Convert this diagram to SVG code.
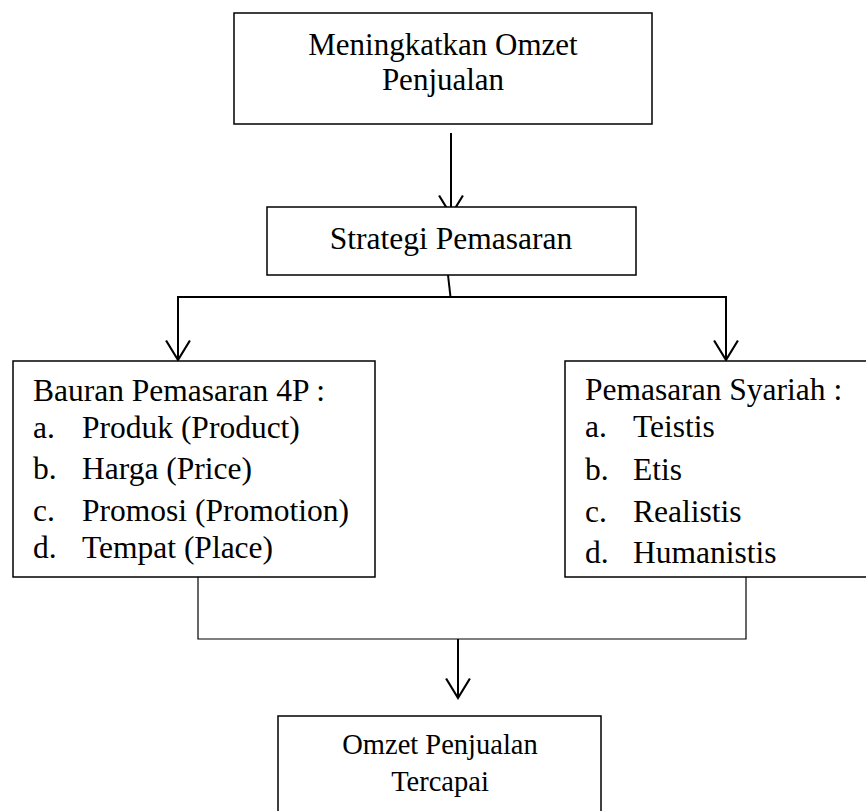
<svg xmlns="http://www.w3.org/2000/svg" width="866" height="811" viewBox="0 0 866 811">
<style>
.box{fill:#fff;stroke:#000;stroke-width:1.5}
.t{font-family:"Liberation Serif","Times New Roman",serif;fill:#000}
.c{text-anchor:middle}
.ln{fill:none;stroke:#000;stroke-width:2}
.thin{fill:none;stroke:#000;stroke-width:1.2}
</style>
<defs>
<marker id="arr" markerUnits="userSpaceOnUse" markerWidth="24" markerHeight="26" refX="19" refY="12" orient="auto-start-reverse" viewBox="0 0 22 24">
<path d="M1,1 L19,12 L1,23" fill="none" stroke="#000" stroke-width="2"/>
</marker>
</defs>
<g id="connectors">
<line class="ln" x1="451" y1="133" x2="451" y2="215" marker-end="url(#arr)"/>
<line class="ln" x1="448" y1="275" x2="450.5" y2="297"/>
<polyline class="ln" points="178,360 178,297 726,297 726,360" marker-start="url(#arr)" marker-end="url(#arr)"/>
<polyline class="thin" points="198,569 198,639 746,639 746,569"/>
<line class="ln" x1="458" y1="639" x2="458" y2="698" marker-end="url(#arr)"/>
</g>
<g id="node-omzet">
<rect class="box" x="234" y="13" width="418" height="111"/>
<text class="t c" x="443" y="55" font-size="31">Meningkatkan Omzet</text>
<text class="t c" x="443" y="90" font-size="31">Penjualan</text>
</g>
<g id="node-strategi">
<rect class="box" x="267" y="207" width="369" height="68"/>
<text class="t c" x="451" y="249" font-size="31.5">Strategi Pemasaran</text>
</g>
<g id="node-bauran">
<rect class="box" x="13" y="361" width="362" height="216"/>
<text class="t" font-size="31.5">
<tspan x="33" y="401">Bauran Pemasaran 4P :</tspan>
<tspan x="33" y="438">a.</tspan><tspan x="82" y="438">Produk (Product)</tspan>
<tspan x="33" y="479">b.</tspan><tspan x="82" y="479">Harga (Price)</tspan>
<tspan x="33" y="521">c.</tspan><tspan x="82" y="521">Promosi (Promotion)</tspan>
<tspan x="33" y="558">d.</tspan><tspan x="82" y="558">Tempat (Place)</tspan>
</text>
</g>
<g id="node-syariah">
<rect class="box" x="565" y="361" width="303" height="216"/>
<text class="t" font-size="31.5">
<tspan x="585" y="400">Pemasaran Syariah :</tspan>
<tspan x="585" y="437">a.</tspan><tspan x="633" y="437">Teistis</tspan>
<tspan x="585" y="480">b.</tspan><tspan x="633" y="480">Etis</tspan>
<tspan x="585" y="522">c.</tspan><tspan x="633" y="522">Realistis</tspan>
<tspan x="585" y="563">d.</tspan><tspan x="633" y="563">Humanistis</tspan>
</text>
</g>
<g id="node-tercapai">
<rect class="box" x="278" y="716" width="323" height="110"/>
<text class="t c" x="440" y="754" font-size="28.5">Omzet Penjualan</text>
<text class="t c" x="440" y="791" font-size="28.5">Tercapai</text>
</g>
</svg>
